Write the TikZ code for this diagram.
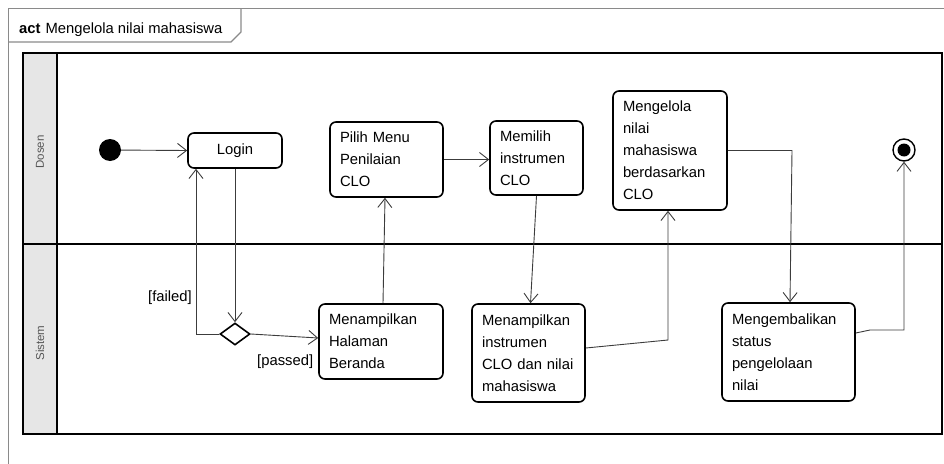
\documentclass[tikz,border=0pt]{standalone}
\usepackage{fontspec}
\setmainfont{Liberation Sans}
\usetikzlibrary{arrows.meta,shapes.geometric}

\definecolor{framegray}{HTML}{8A8A8A}
\definecolor{lanefill}{HTML}{E6E6E6}
\definecolor{lanetext}{HTML}{555555}
\definecolor{flowgray}{HTML}{3C3C3C}

\tikzset{
  basefont/.style={font=\fontsize{14.8}{22}\selectfont},
  action/.style={draw=black, line width=1.6pt, rounded corners=6pt, fill=white,
    basefont, align=left, inner xsep=10pt, inner ysep=0pt, text=black},
  flow/.style={draw=flowgray, line width=0.9pt,
    -{Straight Barb[length=9pt,width=14pt,line width=0.9pt]}},
  lanelabel/.style={rotate=90, text=lanetext, font=\fontsize{11.5}{13}\selectfont},
  guard/.style={basefont, text=black, inner sep=0pt}
}

\begin{document}
\begin{tikzpicture}[x=1pt,y=-1pt]
\useasboundingbox (0,0) rectangle (944,463);

% activity frame with its name tab
\draw[framegray, line width=1.2pt] (8.5,470) -- (8.5,8.5) -- (950,8.5);
\draw[framegray, line width=1.2pt] (8.5,42) -- (231,42) -- (241,32) -- (241,8.5);
\node[anchor=base west, inner sep=0pt, basefont] (title) at (19,33)
  {\textbf{act}\hspace{5pt}Mengelola nilai mahasiswa};

% swimlanes
\fill[lanefill] (23,53) rectangle (57,434);
\draw[black, line width=2.2pt] (23,53) rectangle (942,434);
\draw[black, line width=2.2pt] (57,53) -- (57,434);
\draw[black, line width=2.2pt] (23,244) -- (942,244);
\node[lanelabel] (lanedosen) at (40,152) {Dosen};
\node[lanelabel] (lanesistem) at (40,343) {Sistem};

% initial and final nodes
\node[circle, fill=black, minimum size=22pt, inner sep=0pt] (start) at (110,150) {};
\node[circle, draw=black, line width=1.4pt, fill=white, minimum size=22pt, inner sep=0pt] (final) at (904,150) {};
\fill[black] (final.center) circle[radius=6.5pt];

% actions
\node[action, align=center, text width=74pt, minimum height=35pt] (login) at (235,150.5) {Login};
\node[diamond, draw=black, line width=1.6pt, fill=white, inner sep=0pt,
      minimum width=30pt, minimum height=22pt] (dec) at (235,334) {};
\node[action, text width=104pt, minimum height=75pt] (beranda) at (381,341.5)
  {Menampilkan\\Halaman\\Beranda};
\node[action, text width=93pt, minimum height=75pt] (menu) at (386.5,159.5)
  {Pilih Menu\\Penilaian\\CLO};
\node[action, text width=73pt, minimum height=74pt] (pilihclo) at (536.5,158)
  {Memilih\\instrumen\\CLO};
\node[action, text width=93pt, minimum height=98pt] (tampilclo) at (528.5,353)
  {Menampilkan\\instrumen\\CLO dan nilai\\mahasiswa};
\node[action, text width=94pt, minimum height=119pt] (kelola) at (670,150.5)
  {Mengelola\\nilai\\mahasiswa\\berdasarkan\\CLO};
\node[action, text width=113pt, minimum height=98pt] (kembali) at (788.5,352)
  {Mengembalikan\\status\\pengelolaan\\nilai};

% bend points
\coordinate (b1) at (668,340);
\coordinate (b2) at (792,150.5);
\coordinate (b3) at (870,330);
\coordinate (b4) at (904,330);

% control flows (canvas shifts: positive yshift moves up)
\draw[flow] (start) -- (login.west);
\draw[flow] (login.south) -- (dec.north);
\draw[flow] (dec.west) -| ([xshift=-39pt]login.south);
\draw[flow] (dec.east) -- ([yshift=3.5pt]beranda.west);
\draw[flow] ([xshift=2pt]beranda.north) -- ([xshift=-1.5pt]menu.south);
\draw[flow] (menu.east) -- (menu.east -| pilihclo.west);
\draw[flow] (pilihclo.south) -- ([xshift=2pt]tampilclo.north);
\draw[flow] ([yshift=5pt]tampilclo.east) -- (b1) -- (b1 |- kelola.south);
\draw[flow] (kelola.east) -- (b2) -- ([xshift=1.5pt]kembali.north);
\draw[flow] ([yshift=19pt]kembali.east) -- (b3) -- (b4) -- (final.south);

% guards
\node[guard, anchor=east] (gfailed) at (192,298) {[failed]};
\node[guard, anchor=west] (gpassed) at (257,362) {[passed]};
\end{tikzpicture}
\end{document}
